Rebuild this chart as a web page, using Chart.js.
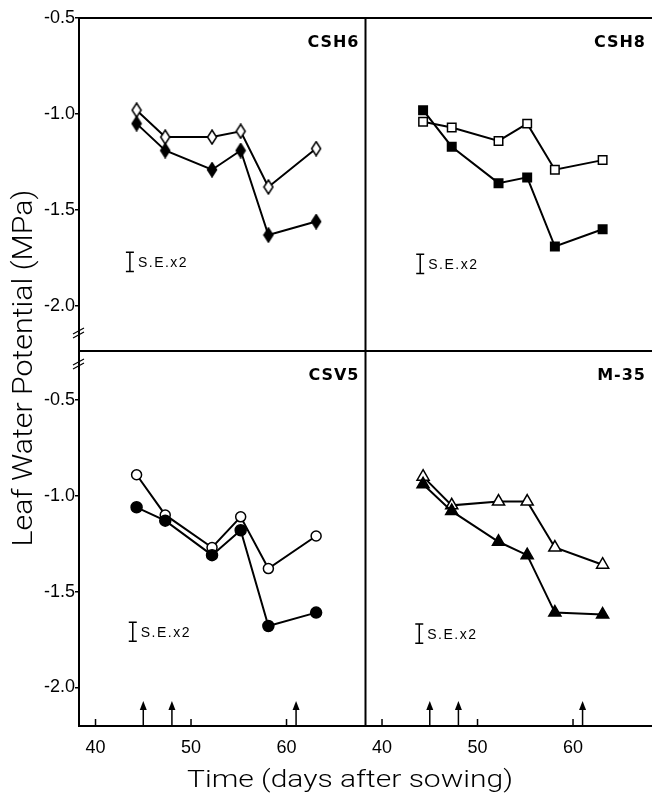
<!DOCTYPE html>
<html>
<head>
<meta charset="utf-8">
<script src="https://cdn.jsdelivr.net/npm/chart.js@4.4.1/dist/chart.umd.min.js"></script>
<style>
  html, body { margin: 0; padding: 0; background: #fff; overflow: hidden; }
  canvas { display: block; }
</style>
</head>
<body>
<canvas id="lwpChart" width="652" height="810"></canvas>
<script>
// sampling days (days after sowing)
const days = [44.3, 47.3, 52.2, 55.2, 58.1, 63.1];

// leaf water potential (MPa), open and filled symbols per cultivar
const csh6Open   = [-0.98, -1.12, -1.12, -1.09, -1.38, -1.18];
const csh6Filled = [-1.05, -1.19, -1.29, -1.19, -1.63, -1.56];
const csh8Open   = [-1.04, -1.07, -1.14, -1.05, -1.29, -1.24];
const csh8Filled = [-0.98, -1.17, -1.36, -1.33, -1.69, -1.60];
const csv5Open   = [-0.89, -1.10, -1.27, -1.11, -1.38, -1.21];
const csv5Filled = [-1.06, -1.13, -1.31, -1.18, -1.68, -1.61];
const m35Open    = [-0.90, -1.05, -1.03, -1.03, -1.27, -1.36];
const m35Filled  = [-0.94, -1.08, -1.24, -1.31, -1.61, -1.62];

const xTicks = [40, 50, 60];
const yTicks = [-0.5, -1.0, -1.5, -2.0];
const irrigationDays = [45, 48, 61];

const panelNames = ['CSH6', 'CSH8', 'CSV5', 'M-35'];
// S.E. x2 bar per panel
const seX = [43.6, 44.0, 43.9, 43.9];
const seY = [-1.77, -1.78, -1.71, -1.72];
const seHalf = 0.05;

const panels = [['x1', 'y1'], ['x2', 'y1'], ['x1', 'y2'], ['x2', 'y2']];

// tall narrow diamond marker, like the printed one
function makeDiamond(filled) {
    const c = document.createElement('canvas');
    c.width = 12;
    c.height = 16;
    const g = c.getContext('2d');
    g.beginPath();
    g.moveTo(6, 1);
    g.lineTo(10.5, 8);
    g.lineTo(6, 15);
    g.lineTo(1.5, 8);
    g.closePath();
    g.fillStyle = filled ? '#000' : '#fff';
    g.fill();
    g.lineWidth = 1.5;
    g.strokeStyle = '#000';
    g.stroke();
    return c;
}

function series(values, p, style, radius, filled) {
    return {
        data: days.map((d, i) => ({ x: d, y: values[i] })),
        xAxisID: panels[p][0],
        yAxisID: panels[p][1],
        borderColor: '#000',
        borderWidth: 2,
        tension: 0,
        pointStyle: style,
        pointRadius: radius,
        pointHoverRadius: radius,
        pointBackgroundColor: filled ? '#000' : '#fff',
        pointBorderColor: '#000',
        pointBorderWidth: 1.5
    };
}

const tickFont = { family: '"Liberation Sans", Arial, sans-serif', size: 18 };

function xAxis() {
    return {
        type: 'linear',
        position: 'bottom',
        stack: 'time',
        stackWeight: 1,
        min: 38.27,
        max: 68.27,
        afterBuildTicks: s => { s.ticks = xTicks.map(v => ({ value: v })); },
        afterFit: s => { s.height = 84; s.paddingLeft = 0; s.paddingRight = 0; },
        grid: { drawOnChartArea: false, drawTicks: false },
        border: { color: '#000', width: 2 },
        ticks: { color: '#000', font: tickFont, padding: 11 }
    };
}

function yAxis(weight, min, max) {
    return {
        type: 'linear',
        position: 'left',
        stack: 'lwp',
        stackWeight: weight,
        min: min,
        max: max,
        afterBuildTicks: s => { s.ticks = yTicks.map(v => ({ value: v })); },
        afterFit: s => { s.width = 79; },
        grid: { drawOnChartArea: false, tickLength: 4, color: '#000', lineWidth: 1.5 },
        border: { color: '#000', width: 2 },
        ticks: { color: '#000', font: tickFont, padding: 0, callback: v => v.toFixed(1) }
    };
}

// frame lines, inward ticks, arrows, labels and titles
const decorPlugin = {
    id: 'decor',
    afterDraw(chart) {
        const ctx = chart.ctx;
        const s = chart.scales;
        const area = chart.chartArea;
        ctx.save();
        ctx.strokeStyle = '#000';
        ctx.fillStyle = '#000';
        ctx.lineWidth = 2;

        ctx.beginPath();
        ctx.moveTo(area.left, area.top);
        ctx.lineTo(area.right, area.top);
        ctx.moveTo(s.x2.left, area.top);
        ctx.lineTo(s.x2.left, area.bottom);
        ctx.moveTo(area.left, s.y2.top);
        ctx.lineTo(area.right, s.y2.top);
        ctx.stroke();

        // axis breaks
        ctx.lineWidth = 1.2;
        [s.y1.bottom - 18, s.y2.top + 13].forEach(y => {
            ctx.beginPath();
            for (const d of [-2, 2]) {
                ctx.moveTo(area.left - 6, y + d + 3);
                ctx.lineTo(area.left + 5, y + d - 3);
            }
            ctx.stroke();
        });

        // inward x ticks and irrigation arrows
        ['x1', 'x2'].forEach(id => {
            const sc = s[id];
            ctx.lineWidth = 1.5;
            ctx.beginPath();
            xTicks.forEach(v => {
                const x = sc.getPixelForValue(v);
                ctx.moveTo(x, area.bottom);
                ctx.lineTo(x, area.bottom - 7);
            });
            irrigationDays.forEach(v => {
                const x = sc.getPixelForValue(v);
                ctx.moveTo(x, area.bottom);
                ctx.lineTo(x, area.bottom - 18);
            });
            ctx.stroke();
            irrigationDays.forEach(v => {
                const x = sc.getPixelForValue(v);
                ctx.beginPath();
                ctx.moveTo(x, area.bottom - 25);
                ctx.lineTo(x - 3.5, area.bottom - 16);
                ctx.lineTo(x + 3.5, area.bottom - 16);
                ctx.closePath();
                ctx.fill();
            });
        });

        // panel names and S.E. bars
        panels.forEach((p, i) => {
            const xs = s[p[0]], ys = s[p[1]];
            ctx.font = 'bold 16px "DejaVu Sans"';
            ctx.letterSpacing = '1px';
            ctx.textAlign = 'right';
            ctx.textBaseline = 'middle';
            ctx.fillText(panelNames[i], xs.right - 6, ys.top + 25);

            const x = xs.getPixelForValue(seX[i]);
            const yt = ys.getPixelForValue(seY[i] + seHalf);
            const yb = ys.getPixelForValue(seY[i] - seHalf);
            ctx.lineWidth = 1.5;
            ctx.beginPath();
            ctx.moveTo(x, yt); ctx.lineTo(x, yb);
            ctx.moveTo(x - 4, yt); ctx.lineTo(x + 4, yt);
            ctx.moveTo(x - 4, yb); ctx.lineTo(x + 4, yb);
            ctx.stroke();
            ctx.font = '14px "Liberation Sans"';
            ctx.letterSpacing = '1.5px';
            ctx.textAlign = 'left';
            ctx.fillText('S.E.x2', x + 8, (yt + yb) / 2 + 1);
        });

        // axis titles
        ctx.letterSpacing = '0px';
        ctx.textAlign = 'center';
        ctx.textBaseline = 'middle';
        ctx.font = '300 27px Roboto';
        const yTitle = 'Leaf Water Potential (MPa)';
        const yw = ctx.measureText(yTitle).width;
        ctx.save();
        ctx.translate(25, 368);
        ctx.rotate(-Math.PI / 2);
        ctx.scale(357 / yw, 1);
        ctx.fillText(yTitle, 0, 0);
        ctx.restore();

        ctx.font = '300 24px Roboto';
        const xTitle = 'Time (days after sowing)';
        const xw = ctx.measureText(xTitle).width;
        ctx.save();
        ctx.translate(350, 781);
        ctx.scale(326 / xw, 1);
        ctx.fillText(xTitle, 0, 0);
        ctx.restore();

        ctx.restore();
    }
};

const ctx = document.getElementById('lwpChart').getContext('2d');
const lwpChart = new Chart(ctx, {
    type: 'line',
    data: {
        datasets: [
            series(csh6Filled, 0, makeDiamond(true), 6, true),
            series(csh6Open, 0, makeDiamond(false), 6, false),
            series(csh8Filled, 1, 'rect', 6, true),
            series(csh8Open, 1, 'rect', 6, false),
            series(csv5Filled, 2, 'circle', 5.5, true),
            series(csv5Open, 2, 'circle', 5, false),
            series(m35Filled, 3, 'triangle', 7, true),
            series(m35Open, 3, 'triangle', 7, false)
        ]
    },
    options: {
        responsive: false,
        animation: false,
        layout: { autoPadding: false, padding: { top: 18, left: 0, right: 0, bottom: 0 } },
        plugins: {
            legend: { display: false },
            tooltip: { enabled: false }
        },
        scales: {
            x1: xAxis(),
            x2: xAxis(),
            // bottom panel first so the top panel is stacked above it
            y2: yAxis(375, -2.202, -0.244),
            y1: yAxis(333, -2.234, -0.5)
        }
    },
    plugins: [decorPlugin]
});
</script>
</body>
</html>
